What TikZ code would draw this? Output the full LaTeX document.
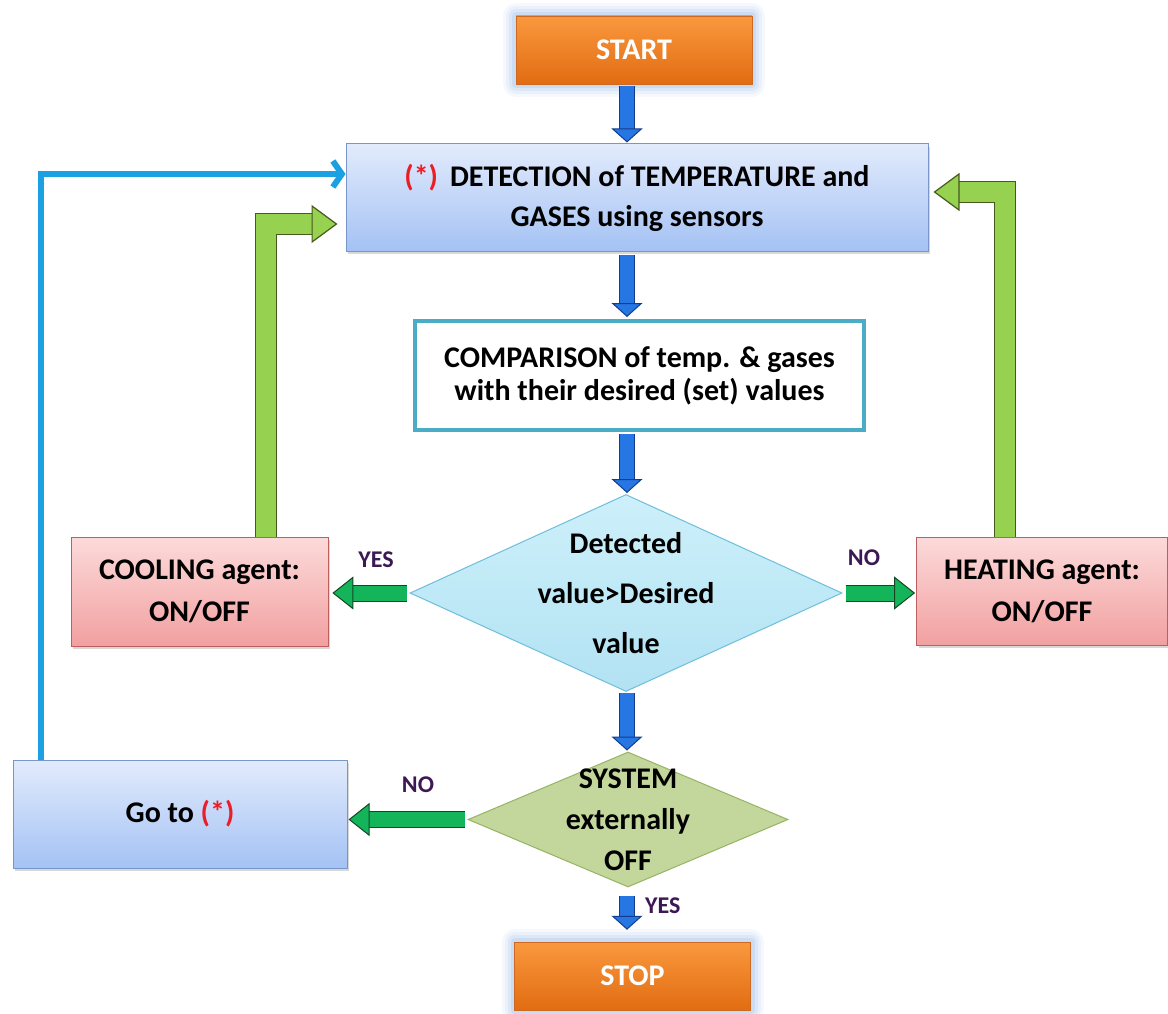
\documentclass[tikz,border=0pt]{standalone}
\usepackage{fontspec}
\setmainfont{Carlito}
\usetikzlibrary{arrows.meta,shapes.geometric,shadows,calc}
\definecolor{orT}{RGB}{250,152,62}
\definecolor{orB}{RGB}{226,108,18}
\definecolor{orE}{RGB}{205,105,35}
\definecolor{glow}{RGB}{140,180,230}
\definecolor{blT}{RGB}{226,235,252}
\definecolor{blB}{RGB}{164,194,244}
\definecolor{blE}{RGB}{120,150,200}
\definecolor{pkT}{RGB}{252,218,218}
\definecolor{pkB}{RGB}{242,160,160}
\definecolor{pkE}{RGB}{190,95,95}
\definecolor{cmpE}{RGB}{75,172,198}
\definecolor{dcT}{RGB}{205,240,250}
\definecolor{dcB}{RGB}{178,226,243}
\definecolor{dcE}{RGB}{110,190,220}
\definecolor{syF}{RGB}{195,214,155}
\definecolor{syE}{RGB}{150,180,100}
\definecolor{bluF}{RGB}{38,118,228}
\definecolor{bluE}{RGB}{20,60,140}
\definecolor{grF}{RGB}{20,180,90}
\definecolor{grE}{RGB}{20,70,35}
\definecolor{lgF}{RGB}{150,210,80}
\definecolor{lgE}{RGB}{70,90,30}
\definecolor{cyanL}{RGB}{27,161,226}
\definecolor{lblC}{RGB}{60,25,85}
\definecolor{starC}{RGB}{235,30,40}
\begin{document}
\begin{tikzpicture}[x=1pt,y=-1pt,
  box/.style={rectangle, inner sep=0pt, align=center, font=\fontsize{30}{40}\selectfont\bfseries},
  termbox/.style={box, minimum width=236pt, minimum height=68pt, top color=orT, bottom color=orB,
     draw=orE, line width=0.5pt, text=white,
     preaction={draw=glow, draw opacity=0.08, line width=26pt, line join=round},
     preaction={draw=glow, draw opacity=0.10, line width=20pt, line join=round},
     preaction={draw=glow, draw opacity=0.14, line width=14pt, line join=round},
     preaction={draw=glow, draw opacity=0.2, line width=8pt, line join=round}},
  procbox/.style={box, top color=blT, bottom color=blB, draw=blE, line width=1pt,
     drop shadow={shadow xshift=2pt, shadow yshift=-3pt, opacity=0.3}},
  agentbox/.style={box, top color=pkT, bottom color=pkB, draw=pkE, line width=0.8pt,
     drop shadow={shadow xshift=2pt, shadow yshift=-3pt, opacity=0.3},
     font=\fontsize{30}{42}\selectfont\bfseries},
  cmpbox/.style={box, fill=white, draw=cmpE, line width=4pt, font=\fontsize{30}{33}\selectfont\bfseries},
  decbox/.style={diamond, inner sep=0pt, line width=1pt},
  dtext/.style={align=center, inner sep=0pt},
  lbl/.style={inner sep=0pt, font=\fontsize{24}{26}\selectfont\bfseries, text=lblC},
  barrow/.style 2 args={draw=bluF, line width=14pt, shorten <=#1, shorten >=#2,
     -{Triangle[length=14pt,width=31pt,fill=bluF,color=bluE,line width=1pt]},
     preaction={draw=bluE, line width=16pt, arrows=-, shorten <=#1, shorten >=#2+12pt}},
  garrow/.style 2 args={draw=grF, line width=15pt, shorten <=#1, shorten >=#2,
     -{Triangle[length=21pt,width=33pt,fill=grF,color=grE,line width=1pt]},
     preaction={draw=grE, line width=17pt, arrows=-, shorten <=#1, shorten >=#2+19pt}},
  lgarrow/.style={draw=lgF, line width=20pt, line join=miter,
     -{Triangle[length=26pt,width=38pt,fill=lgF,color=lgE,line width=1.2pt]},
     preaction={draw=lgE, line width=22.4pt, line join=miter, arrows=-, shorten >=23pt}},
  fbline/.style={draw=cyanL, line width=6pt, line join=miter,
     -{Straight Barb[length=9pt,width=26pt]}}
]
\useasboundingbox (0,0) rectangle (1168,1014);
\fill[white] (0,0) rectangle (1168,1014);
\coordinate (col) at (627,0);

% nodes
\node[termbox] (start) at (634,50) {START};
\node[procbox, minimum width=582pt, minimum height=107pt] (det) at (637,197.5)
  {\textcolor{starC}{(*)}\hspace{12pt}DETECTION of TEMPERATURE and\\GASES using sensors};
\node[cmpbox, minimum width=449pt, minimum height=109pt] (cmp) at (639.5,375.5)
  {COMPARISON of temp. \& gases\\with their desired (set) values};
\node[decbox, top color=dcT, bottom color=dcB, draw=dcE, minimum width=432pt, minimum height=197pt] (d1) at (626,593) {};
\node[dtext, font=\fontsize{30}{50}\selectfont\bfseries] (d1t) at (d1.center) {Detected\\value>Desired\\value};
\node[agentbox, minimum width=257pt, minimum height=109pt] (cool) at (199.5,591.5) {COOLING agent:\\ON/OFF};
\node[agentbox, minimum width=251pt, minimum height=108pt] (heat) at (1042,591) {HEATING agent:\\ON/OFF};
\node[decbox, fill=syF, draw=syE, minimum width=320pt, minimum height=135pt] (sys) at (628,819.5) {};
\node[dtext, font=\fontsize{30}{41}\selectfont\bfseries] (syst) at (sys.center) {SYSTEM\\externally\\OFF};
\node[procbox, minimum width=334pt, minimum height=108pt] (goto) at (180,814) {Go to \textcolor{starC}{(*)}};
\node[termbox] (stop) at (632.5,976) {STOP};

% labels
\node[lbl] (yes1) at (376,560) {YES};
\node[lbl] (no1) at (864,558) {NO};
\node[lbl] (no2) at (418,785) {NO};
\node[lbl, anchor=west] (yes2) at (645,906) {YES};

% blue block arrows
\draw[barrow={2pt}{1pt}] (start.south -| col) -- (det.north -| col);
\draw[barrow={3pt}{2pt}] (det.south -| col) -- (cmp.north -| col);
\draw[barrow={2pt}{1pt}] (cmp.south -| col) -- (d1.north -| col);
\draw[barrow={1pt}{1pt}] (d1.south -| col) -- (sys.north -| col);
\draw[barrow={8pt}{12pt}] (sys.south -| col) -- (stop.north -| col);

% green decision arrows
\draw[garrow={3pt}{4pt}] (d1.west) -- (cool.east |- d1.west);
\draw[garrow={3pt}{1pt}] (d1.east) -- (heat.west |- d1.east);
\draw[garrow={3pt}{1pt}] (sys.west) -- (goto.east |- sys.west);

% green feedback arrows
\draw[lgarrow] ([xshift=66.5pt]cool.north) |- ([xshift=-8pt,yshift=-26.5pt]det.west);
\draw[lgarrow] ([xshift=-37pt]heat.north) |- ([xshift=5pt,yshift=5.5pt]det.east);

% blue loop line
\draw[fbline] ([xshift=-139pt]goto.north) |- ([yshift=23.5pt]det.west);
\end{tikzpicture}
\end{document}
